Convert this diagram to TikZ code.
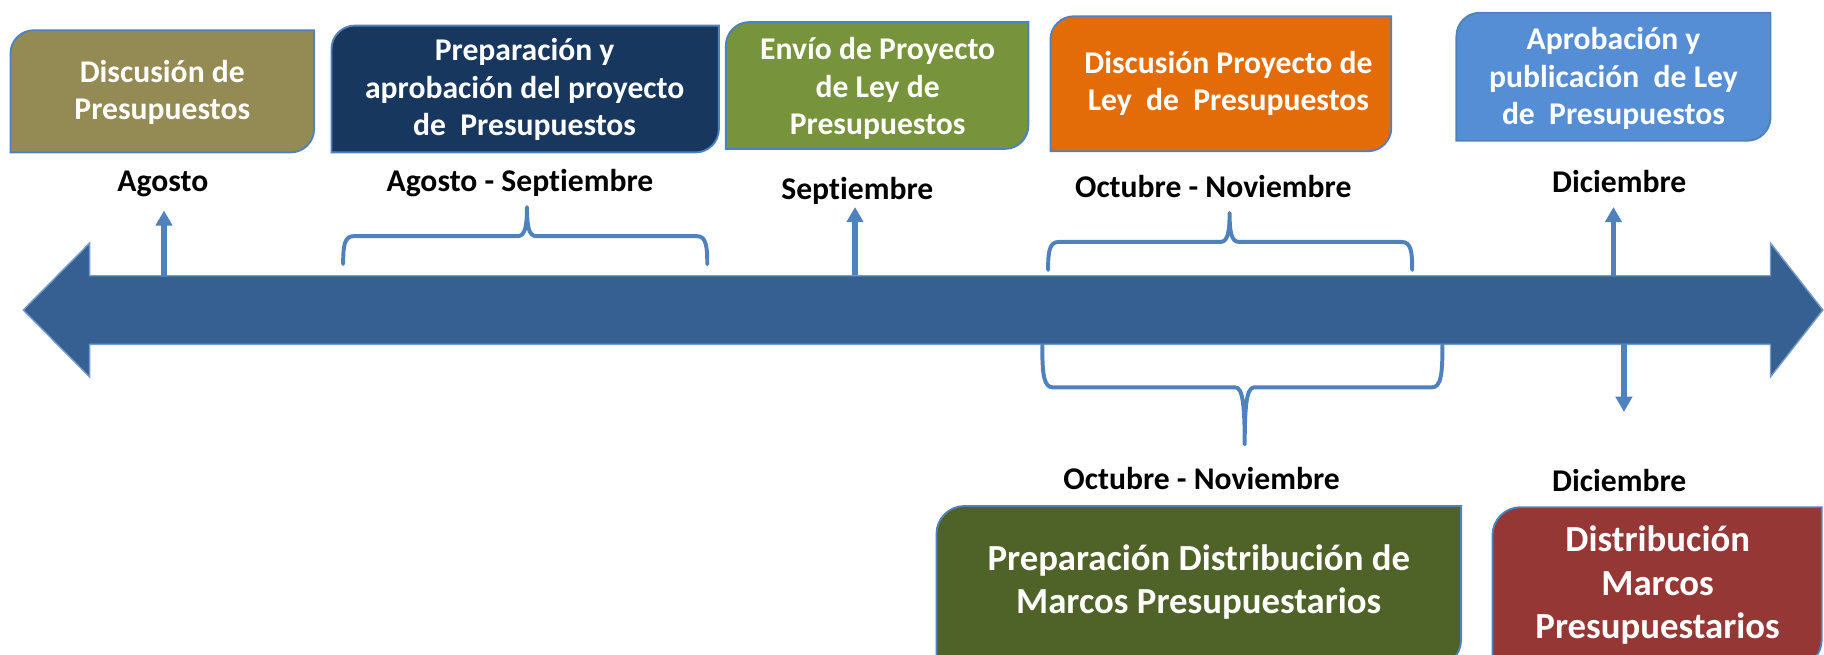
\documentclass[tikz,border=0pt]{standalone}
\usepackage{fontspec}
\setmainfont{Carlito}[Ligatures=NoCommon]
\usetikzlibrary{arrows.meta}
\definecolor{edgeblue}{RGB}{79,129,189}
\definecolor{axisblue}{RGB}{54,96,146}
\definecolor{cOlive}{RGB}{148,138,84}
\definecolor{cNavy}{RGB}{23,55,94}
\definecolor{cGreen}{RGB}{119,147,60}
\definecolor{cOrange}{RGB}{227,108,9}
\definecolor{cBlue}{RGB}{85,142,213}
\definecolor{cDkGreen}{RGB}{79,98,40}
\definecolor{cRed}{RGB}{149,55,53}
% x1 y1 x2 y2 radius colour  (round diagonal corner rectangle)
\newcommand\diagbox[6]{%
 \filldraw[fill=#6, draw=edgeblue, line width=0.8pt]
 (#1,#4) -- (#1,{#2+#5}) .. controls (#1,{#2+0.45*#5}) and ({#1+0.45*#5},#2) .. ({#1+#5},#2)
 -- (#3,#2) -- (#3,{#4-#5}) .. controls (#3,{#4-0.45*#5}) and ({#3-0.45*#5},#4) .. ({#3-#5},#4) -- cycle;}
% brace: L R M yflat yend ytip
\newcommand\bracepath[6]{%
 \draw[bracestyle] (#1,#5) .. controls (#1,{#4+0.35*(#5-#4)}) and ({#1+1},#4) .. ({#1+9},#4)
 -- ({#3-8},#4) .. controls ({#3-1.5},#4) and (#3,{#4+0.35*(#6-#4)}) .. (#3,#6)
 .. controls (#3,{#4+0.35*(#6-#4)}) and ({#3+1.5},#4) .. ({#3+8},#4)
 -- ({#2-9},#4) .. controls ({#2-1},#4) and (#2,{#4+0.35*(#5-#4)}) .. (#2,#5);}
\tikzset{
 boxtxt/.style={text=white, font=\bfseries\fontsize{13.6}{16}\selectfont, align=center, inner sep=0pt},
 bigtxt/.style={text=white, font=\bfseries\fontsize{15.8}{18.6}\selectfont, align=center, inner sep=0pt},
 lbl/.style={text=black, font=\bfseries\fontsize{13.6}{16}\selectfont, inner sep=0pt},
 tick/.style={draw=edgeblue, line width=2.3pt, -{Triangle[width=7pt,length=6.5pt]}},
 bracestyle/.style={draw=edgeblue, line width=1.7pt, line cap=round, line join=round},
}
\begin{document}
\begin{tikzpicture}[x=0.5pt,y=-0.5pt]
\useasboundingbox (0,0) rectangle (1568,563);
% main double arrow
\filldraw[fill=axisblue, draw=edgeblue!80, line width=0.6pt]
 (20,266.5) -- (77,209) -- (77,237) -- (1522,237) -- (1522,209) -- (1567,266.5)
 -- (1522,324) -- (1522,296) -- (77,296) -- (77,324) -- cycle;
% boxes
\diagbox{9}{26}{270}{131}{20}{cOlive}
\diagbox{285}{22}{618}{131}{20}{cNavy}
\diagbox{624}{19}{884}{128}{20}{cGreen}
\diagbox{903}{14}{1196}{130}{20}{cOrange}
\diagbox{1252}{11}{1522}{121}{20}{cBlue}
\diagbox{805}{435}{1256}{574}{24}{cDkGreen}
\diagbox{1283}{436}{1566}{574}{24}{cRed}
% box texts
\node[boxtxt] (b1) at (139.5,79.5) {Discusión de\\Presupuestos};
\node[boxtxt] (b2) at (451,77) {Preparación y\\aprobación del proyecto\\de~ Presupuestos};
\node[boxtxt] (b3) at (754.5,76) {Envío de Proyecto\\de Ley de\\Presupuestos};
\node[boxtxt] (b4) at (1056,72) {Discusión Proyecto de\\Ley~ de~ Presupuestos};
\node[boxtxt] (b5) at (1387,67.5) {Aprobación y\\publicación~ de Ley\\de~ Presupuestos};
\node[bigtxt] (b6) at (1030.5,500.5) {Preparación Distribución de\\Marcos Presupuestarios};
\node[bigtxt] (b7) at (1425,503) {Distribución\\Marcos\\Presupuestarios};
% labels
\node[lbl] (l1) at (140,158) {Agosto};
\node[lbl] (l2) at (447,157) {Agosto - Septiembre};
\node[lbl] (l3) at (737,164) {Septiembre};
\node[lbl] (l4) at (1043,160) {Octubre - Noviembre};
\node[lbl] (l5) at (1392,156) {Diciembre};
\node[lbl] (l6) at (1033,411) {Octubre - Noviembre};
\node[lbl] (l7) at (1392,413) {Diciembre};
% tick arrows
\coordinate (t1a) at (141,238); \coordinate (t1b) at (141,181);
\coordinate (t2a) at (735,236); \coordinate (t2b) at (735,178);
\coordinate (t3a) at (1387,237); \coordinate (t3b) at (1387,178);
\coordinate (t4a) at (1396,296); \coordinate (t4b) at (1396,354);
\draw[tick] (t1a) -- (t1b);
\draw[tick] (t2a) -- (t2b);
\draw[tick] (t3a) -- (t3b);
\draw[tick] (t4a) -- (t4b);
% braces
\bracepath{295}{608}{453}{203}{227}{178}
\bracepath{901}{1214}{1057}{208}{232}{183}
\bracepath{896}{1240}{1070}{333}{297}{382}
\end{tikzpicture}
\end{document}
